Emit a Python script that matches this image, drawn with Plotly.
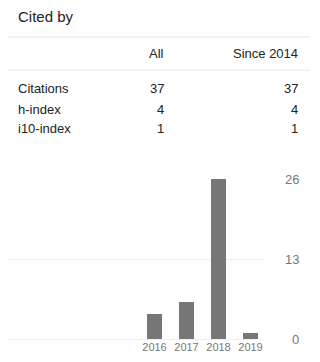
import plotly.graph_objects as go

years = [2016, 2017, 2018, 2019]
citations = [4, 6, 26, 1]
y_ticks = [0, 13, 26]

col_headers = ["All", "Since 2014"]
row_labels = ["Citations", "h-index", "i10-index"]
all_vals = ["37", "4", "1"]
since_vals = ["37", "4", "1"]

W, H = 320, 362
FONT = "Liberation Sans, Arial, sans-serif"

def px(x):
    return x / W

def py(y):
    return 1 - y / H

fig = go.Figure()
fig.add_trace(go.Bar(
    x=years, y=citations, width=0.47,
    marker=dict(color="#777777", line=dict(width=0)),
    hoverinfo="skip",
))

annotations = []
annotations.append(dict(text="Cited by", x=px(16), y=py(16), xref="paper", yref="paper",
                        xanchor="left", yanchor="middle", showarrow=False,
                        font=dict(family=FONT, size=15, color="#222222")))
col_x = [166, 300]
for cx, h in zip(col_x, col_headers):
    annotations.append(dict(text=h, x=px(cx), y=py(54), xref="paper", yref="paper",
                            xanchor="right", yanchor="middle", showarrow=False,
                            font=dict(family=FONT, size=13, color="#222222")))
row_y = [88, 109, 129]
for ry, lab, a, s in zip(row_y, row_labels, all_vals, since_vals):
    annotations.append(dict(text=lab, x=px(16), y=py(ry), xref="paper", yref="paper",
                            xanchor="left", yanchor="middle", showarrow=False,
                            font=dict(family=FONT, size=13, color="#222222")))
    for cx, v in zip(col_x, [a, s]):
        annotations.append(dict(text=v, x=px(cx), y=py(ry), xref="paper", yref="paper",
                                xanchor="right", yanchor="middle", showarrow=False,
                                font=dict(family=FONT, size=13, color="#222222")))

for t in y_ticks:
    annotations.append(dict(text=str(t), x=px(301), y=t, xref="paper", yref="y",
                            xanchor="right", yanchor="middle", showarrow=False,
                            font=dict(family=FONT, size=13, color="#777777")))

shapes = []
for ly in [37, 70]:
    shapes.append(dict(type="line", xref="paper", yref="paper",
                       x0=px(8), x1=px(310), y0=py(ly), y1=py(ly),
                       line=dict(color="#e6e6e6", width=1)))

fig.update_layout(
    width=W, height=H,
    margin=dict(l=0, r=0, t=0, b=0),
    paper_bgcolor="white", plot_bgcolor="white",
    showlegend=False,
    bargap=0,
    annotations=annotations,
    shapes=shapes,
    xaxis=dict(
        domain=[px(8), px(263)],
        range=[2016 - (154.5 - 8) / 32, 2019 + (263 - 250.5) / 32],
        tickvals=years, ticktext=[str(y) for y in years],
        showgrid=False, zeroline=False, showline=False, ticks="",
        tickfont=dict(family=FONT, size=11, color="#777777"),
        fixedrange=True,
    ),
    yaxis=dict(
        domain=[py(339), py(179)],
        range=[0, 26],
        tickvals=y_ticks, showticklabels=False,
        showgrid=True, gridcolor="#eeeeee", gridwidth=1,
        zeroline=True, zerolinecolor="#eeeeee", zerolinewidth=1,
        showline=False, ticks="",
        fixedrange=True,
    ),
)

fig.write_html("out.html", config={"displayModeBar": False})
